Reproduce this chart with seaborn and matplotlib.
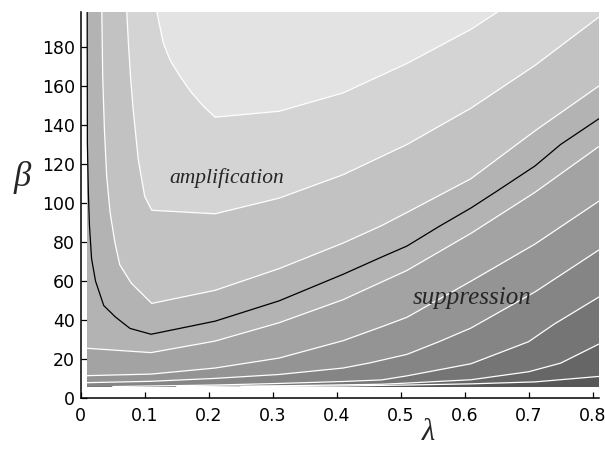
import matplotlib
matplotlib.use("Agg")
import matplotlib.pyplot as plt
import seaborn as sns
import numpy as np

# ---- data (lambda, beta) for each contour line ----
c1_lam = [0.25, 0.41, 0.51, 0.61, 0.71, 0.81]
c1_beta = [6.0, 6.3, 6.8, 7.4, 8.4, 11.2]

c2_lam = [0.15, 0.31, 0.41, 0.47, 0.51, 0.61, 0.70, 0.75, 0.81]
c2_beta = [6.0, 6.4, 6.9, 7.2, 7.8, 9.5, 13.6, 18.0, 27.8]

c3_lam = [0.05, 0.11, 0.21, 0.31, 0.41, 0.47, 0.51, 0.61, 0.70, 0.74, 0.81]
c3_beta = [6.0, 6.3, 6.8, 7.6, 8.6, 9.4, 11.5, 17.7, 29.0, 38.0, 51.9]

c4_lam = [0.01, 0.11, 0.21, 0.31, 0.41, 0.45, 0.51, 0.56, 0.61, 0.71, 0.81]
c4_beta = [8.0, 8.7, 10.2, 12.2, 15.5, 18.0, 22.5, 29.0, 36.0, 54.5, 76.0]

c5_lam = [0.01, 0.11, 0.21, 0.31, 0.41, 0.47, 0.51, 0.61, 0.71, 0.81]
c5_beta = [11.6, 12.4, 15.5, 20.6, 29.5, 36.6, 41.5, 60.0, 79.0, 101.0]

c6_lam = [0.01, 0.11, 0.21, 0.31, 0.41, 0.47, 0.51, 0.61, 0.71, 0.81]
c6_beta = [25.6, 23.4, 29.3, 38.7, 50.5, 59.5, 65.5, 84.5, 105.5, 129.0]

c7_lam = [0.033, 0.0344, 0.037, 0.0406, 0.046, 0.0536, 0.061, 0.079, 0.111,
          0.21, 0.31, 0.41, 0.47, 0.51, 0.61, 0.71, 0.81]
c7_beta = [198, 165, 138, 113.6, 95, 79.5, 68.4, 59, 48.6,
           55.3, 66.4, 79.5, 88.4, 95.2, 112.5, 137, 160]

c8_lam = [0.072, 0.0745, 0.078, 0.082, 0.090, 0.100, 0.111,
          0.21, 0.31, 0.41, 0.51, 0.61, 0.71, 0.81]
c8_beta = [198, 182, 164, 147.8, 122.2, 103.4, 96.3,
           94.5, 102.5, 114.5, 130, 148.6, 170.5, 195.3]

c9_lam = [0.119, 0.124, 0.129, 0.14, 0.155, 0.172, 0.192, 0.21,
          0.31, 0.41, 0.51, 0.61, 0.652]
c9_beta = [198, 190, 182, 173, 165, 157, 149.5, 144,
           147, 156.4, 171.5, 189, 198]

# boundary between amplification and suppression (black line)
cb_lam = [0.0101, 0.0104, 0.012, 0.0137, 0.017, 0.0232, 0.036, 0.054, 0.077, 0.11,
          0.21, 0.31, 0.41, 0.47, 0.51, 0.56, 0.61, 0.65, 0.71, 0.75, 0.81]
cb_beta = [198, 131, 105, 88.5, 71.5, 60, 47.5, 41.7, 35.8, 32.8,
           39.5, 49.9, 63.5, 72.3, 78, 88, 97.5, 106, 119, 130, 143.2]

band_gray = [0.34, 0.40, 0.46, 0.52, 0.58, 0.64, 0.70, 0.76, 0.83, 0.89]

x_ticks = [0, 0.1, 0.2, 0.3, 0.4, 0.5, 0.6, 0.7, 0.8]
x_labels = ["0", "0.1", "0.2", "0.3", "0.4", "0.5", "0.6", "0.7", "0.8"]
y_ticks = [0, 20, 40, 60, 80, 100, 120, 140, 160, 180]
y_labels = [str(v) for v in y_ticks]

# data domain
lam_min, lam_max = 0.01, 0.81
beta_min, beta_max = 6.0, 198.0

sns.set_style("ticks")
plt.rcParams["font.family"] = ["DejaVu Sans"]

fig = plt.figure(figsize=(6.05, 4.5), dpi=100)
ax = fig.add_axes([80.7 / 605, 1 - 398.3 / 450, (599 - 80.7) / 605, (398.3 - 11.7) / 450])

lines = [(c1_lam, c1_beta), (c2_lam, c2_beta), (c3_lam, c3_beta),
         (c4_lam, c4_beta), (c5_lam, c5_beta), (c6_lam, c6_beta),
         (c7_lam, c7_beta), (c8_lam, c8_beta), (c9_lam, c9_beta)]

def gray(v):
    return (v, v, v)

# base band
ax.fill([lam_min, lam_max, lam_max, lam_min], [beta_min, beta_min, beta_max, beta_max],
        color=gray(band_gray[0]), lw=0, zorder=1)

eps = 1e-6
for k, (lx, ly) in enumerate(lines, start=1):
    px = list(lx)
    py = list(ly)
    # close the region lying above/left of the line along the domain border
    if abs(px[-1] - lam_max) < eps:
        px.append(lam_max); py.append(beta_max)
    if abs(px[0] - lam_min) < eps:
        px.append(lam_min); py.append(beta_max)
    elif abs(py[0] - beta_min) < eps:
        px += [lam_min, lam_min]; py += [beta_max, beta_min]
    ax.fill(px, py, color=gray(band_gray[k]), lw=0, zorder=1 + k)

for lx, ly in lines:
    sns.lineplot(x=lx, y=ly, sort=False, estimator=None, color="white", lw=0.9, ax=ax, zorder=20)
sns.lineplot(x=cb_lam, y=cb_beta, sort=False, estimator=None, color="black", lw=0.9, ax=ax, zorder=21)

ax.set_xlim(0, 0.81)
ax.set_ylim(0, 198)
ax.set_xticks(x_ticks)
ax.set_xticklabels(x_labels)
ax.set_yticks(y_ticks)
ax.set_yticklabels(y_labels)
ax.tick_params(direction="in", length=4.5, width=0.9, labelsize=12.5, colors="black", pad=4)
ax.tick_params(axis="x", pad=6)
for s in ["top", "right"]:
    ax.spines[s].set_visible(False)
for s in ["left", "bottom"]:
    ax.spines[s].set_linewidth(1.1)
    ax.spines[s].set_color("black")
ax.set_facecolor("white")

serif = ["Liberation Serif", "DejaVu Serif"]
ax.text(0.2286, 113, "amplification", fontsize=15.5, style="italic", family=serif,
        ha="center", va="center", zorder=30)
ax.text(0.612, 51.3, "suppression", fontsize=18, style="italic", family=serif,
        ha="center", va="center", zorder=30)
fig.text(22 / 605, 1 - 178 / 450, "β", fontsize=25, style="italic", family=serif,
         ha="center", va="center")
fig.text(428 / 605, 1 - 432 / 450, "λ", fontsize=22, style="italic", family=serif,
         ha="center", va="center")

fig.savefig("out.png", dpi=100)
